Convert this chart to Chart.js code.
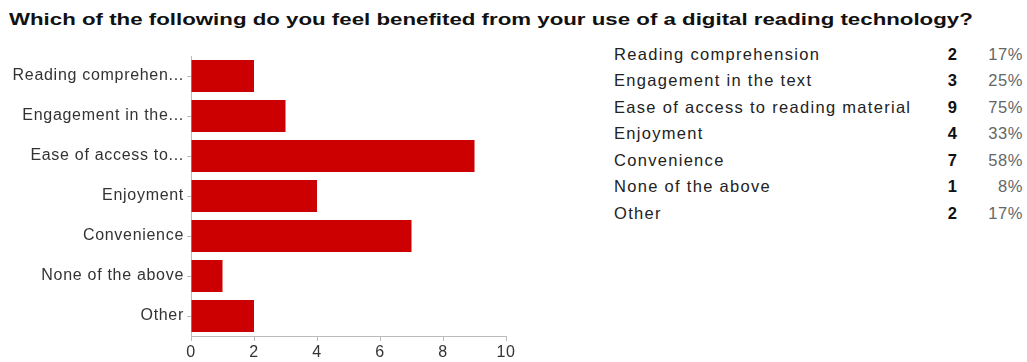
<!DOCTYPE html>
<html>
<head>
<meta charset="utf-8">
<script src="https://cdn.jsdelivr.net/npm/chart.js@4.4.1/dist/chart.umd.min.js"></script>
<style>
  html, body { margin:0; padding:0; background:#fff; width:1027px; height:362px; overflow:hidden; }
  body { position:relative; font-family:"Liberation Sans", Arial, Helvetica, sans-serif; }
  #title { position:absolute; left:9px; top:10px; font-weight:bold; font-size:17px; line-height:20px;
           color:#111; white-space:nowrap; transform-origin:left top; transform:scaleX(1.31); }
  #chartBox { position:absolute; left:0; top:0; width:530px; height:362px; }
  .row { position:absolute; height:26px; line-height:26px; font-size:16.5px; white-space:nowrap; }
  .lab { left:614px; color:#222; letter-spacing:1.3px; }
  .num { right:70px; color:#111; font-weight:bold; text-align:right; }
  .pct { right:4px; color:#666; text-align:right; letter-spacing:0.6px; }
</style>
</head>
<body>
<div id="title">Which of the following do you feel benefited from your use of a digital reading technology?</div>
<div id="chartBox"><canvas id="c" width="530" height="362"></canvas></div>
<div id="table"></div>
<script>
const categories = ["Reading comprehension", "Engagement in the text", "Ease of access to reading material", "Enjoyment", "Convenience", "None of the above", "Other"];
const axisLabels = ["Reading comprehen...", "Engagement in the...", "Ease of access to...", "Enjoyment", "Convenience", "None of the above", "Other"];
const counts = [2, 3, 9, 4, 7, 1, 2];
const percents = [17, 25, 75, 33, 58, 8, 17];
const xMin = 0, xMax = 10, xStep = 2;

// summary table (text)
const table = document.getElementById('table');
categories.forEach((name, i) => {
  const top = 40.5 + i * 26.5;
  const a = document.createElement('div'); a.className = 'row lab'; a.style.top = top + 'px'; a.textContent = name;
  const b = document.createElement('div'); b.className = 'row num'; b.style.top = top + 'px'; b.textContent = counts[i];
  const c = document.createElement('div'); c.className = 'row pct'; c.style.top = top + 'px'; c.textContent = percents[i] + '%';
  table.appendChild(a); table.appendChild(b); table.appendChild(c);
});

const spacingPlugin = { id: 'spacing', beforeDraw(chart) { chart.ctx.letterSpacing = '0.7px'; } };
const FONT = "'Liberation Sans', Arial, Helvetica, sans-serif";

new Chart(document.getElementById('c'), {
  type: 'bar',
  data: {
    labels: axisLabels,
    datasets: [{
      data: counts,
      backgroundColor: '#cc0000',
      borderWidth: 0,
      barPercentage: 0.8,
      categoryPercentage: 1.0
    }]
  },
  options: {
    indexAxis: 'y',
    responsive: false,
    animation: false,
    layout: { padding: { top: 56, right: 24, left: 0, bottom: 0 } },
    plugins: { legend: { display: false }, tooltip: { enabled: false }, title: { display: false } },
    scales: {
      x: {
        min: xMin, max: xMax,
        ticks: { stepSize: xStep, font: { family: FONT, size: 16 }, color: '#333', padding: 2 },
        grid: { drawOnChartArea: false, drawTicks: true, tickLength: 5, color: '#bbb' },
        border: { color: '#bbb' },
        afterFit(s) { s.height = 26; }
      },
      y: {
        ticks: { font: { family: FONT, size: 16 }, color: '#333', padding: 3, autoSkip: false },
        grid: { drawOnChartArea: false, drawTicks: true, tickLength: 4, color: '#bbb', offset: false },
        border: { color: '#bbb' },
        afterFit(s) { s.width = 191; }
      }
    }
  },
  plugins: [spacingPlugin]
});
</script>
</body>
</html>
